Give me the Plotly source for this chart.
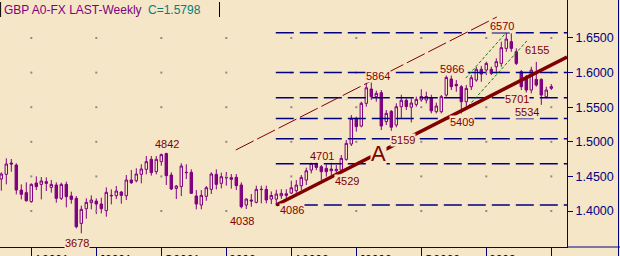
import plotly.graph_objects as go

# ---------------- data ----------------
opens = [1.4463,1.4530,1.4694,1.4665,1.4303,1.4265,1.4135,1.4405,1.4385,1.4424,
         1.4342,1.4376,1.4183,1.4385,1.4217,1.4183,1.3821,1.4033,1.4120,1.4144,
         1.4101,1.4005,1.4226,1.4221,1.4274,1.4221,1.4448,1.4438,1.4530,1.4602,
         1.4747,1.4569,1.4713,1.4830,1.4520,1.4327,1.4352,1.4560,1.4559,1.4217,
         1.4087,1.4212,1.4313,1.4530,1.4400,1.4484,1.4482,1.4487,1.4376,1.4087,
         1.4159,1.4125,1.4315,1.4313,1.4172,1.4172,1.4220,1.4225,1.4259,1.4293,
         1.4365,1.4447,1.4592,1.4688,1.4640,1.4616,1.4606,1.4582,1.4592,1.4746,
         1.4968,1.5339,1.5228,1.5556,1.5763,1.5652,1.5710,1.5291,1.5440,1.5242,
         1.5507,1.5600,1.5500,1.5540,1.5605,1.5604,1.5640,1.5435,1.5435,1.5675,
         1.5907,1.5830,1.5796,1.5579,1.5796,1.5892,1.6047,1.6037,1.6047,1.6085,
         1.6133,1.6350,1.6447,1.6302,1.6013,1.5916,1.5748,1.5902,1.5902,1.5651,
         1.5772]
highs = [1.4559,1.4761,1.4752,1.4689,1.4385,1.4414,1.4400,1.4501,1.4491,1.4487,
         1.4448,1.4414,1.4409,1.4424,1.4279,1.4217,1.4077,1.4183,1.4226,1.4183,
         1.4193,1.4342,1.4313,1.4361,1.4289,1.4520,1.4593,1.4617,1.4675,1.4795,
         1.4795,1.4795,1.4830,1.4842,1.4559,1.4376,1.4689,1.4675,1.4602,1.4303,
         1.4303,1.4361,1.4559,1.4602,1.4554,1.4564,1.4535,1.4535,1.4414,1.4183,
         1.4246,1.4366,1.4366,1.4366,1.4283,1.4307,1.4315,1.4315,1.4437,1.4447,
         1.4520,1.4626,1.4701,1.4701,1.4664,1.4674,1.4703,1.4664,1.4809,1.5026,
         1.5387,1.5363,1.5580,1.5845,1.5864,1.5739,1.5748,1.5459,1.5459,1.5556,
         1.5680,1.5628,1.5628,1.5652,1.5758,1.5725,1.5680,1.5565,1.5676,1.5966,
         1.5965,1.5892,1.5820,1.5820,1.5965,1.6085,1.6095,1.6158,1.6085,1.6206,
         1.6447,1.6570,1.6567,1.6350,1.6037,1.5965,1.6085,1.6155,1.5916,1.5796,
         1.5835]
lows = [1.4294,1.4385,1.4568,1.4241,1.4168,1.4135,1.4120,1.4303,1.4168,1.4289,
        1.4265,1.4120,1.4159,1.4053,1.4106,1.3749,1.3678,1.3889,1.4024,1.3956,
        1.3966,1.3918,1.4096,1.4173,1.4106,1.4159,1.4390,1.4414,1.4400,1.4530,
        1.4511,1.4530,1.4655,1.4376,1.4303,1.4173,1.4217,1.4462,1.4250,1.4024,
        1.4024,1.4149,1.4246,1.4313,1.4327,1.4366,1.4323,1.4303,1.4038,1.4029,
        1.4062,1.4111,1.4111,1.4111,1.4100,1.4086,1.4175,1.4180,1.4245,1.4264,
        1.4303,1.4375,1.4544,1.4590,1.4447,1.4496,1.4505,1.4529,1.4568,1.4727,
        1.4939,1.5146,1.5209,1.5508,1.5604,1.5580,1.5170,1.5242,1.5159,1.5209,
        1.5339,1.5459,1.5280,1.5507,1.5580,1.5556,1.5411,1.5411,1.5411,1.5651,
        1.5748,1.5724,1.5409,1.5483,1.5748,1.5868,1.5868,1.5965,1.5965,1.5989,
        1.6085,1.6302,1.6302,1.6109,1.5748,1.5701,1.5700,1.5796,1.5534,1.5627,
        1.5748]
closes = [1.4535,1.4679,1.4679,1.4303,1.4241,1.4149,1.4385,1.4352,1.4434,1.4400,
          1.4385,1.4183,1.4385,1.4207,1.4168,1.3773,1.4024,1.4125,1.4159,1.4101,
          1.4033,1.4270,1.4221,1.4289,1.4226,1.4448,1.4409,1.4535,1.4607,1.4713,
          1.4554,1.4747,1.4815,1.4511,1.4318,1.4361,1.4650,1.4555,1.4255,1.4101,
          1.4226,1.4337,1.4535,1.4385,1.4496,1.4480,1.4458,1.4366,1.4062,1.4173,
          1.4145,1.4313,1.4310,1.4159,1.4225,1.4245,1.4255,1.4250,1.4336,1.4375,
          1.4486,1.4582,1.4688,1.4630,1.4568,1.4568,1.4582,1.4602,1.4761,1.4978,
          1.5339,1.5219,1.5556,1.5780,1.5652,1.5700,1.5228,1.5411,1.5210,1.5507,
          1.5600,1.5510,1.5560,1.5613,1.5655,1.5655,1.5447,1.5517,1.5652,1.5930,
          1.5796,1.5810,1.5579,1.5772,1.5926,1.6047,1.5979,1.6133,1.5989,1.6158,
          1.6360,1.6485,1.6350,1.6133,1.5796,1.5748,1.6037,1.5820,1.5675,1.5748,
          1.5798]
weeks = list(range(len(closes)))

tick_weeks = [6, 19, 32, 45, 58, 71, 84, 97, 110]
tick_labels = ["A2001", "J2001", "O2001", "2002", "A2002", "J2002", "O2002", "2003", ""]
price_ticks = [1.40, 1.45, 1.50, 1.55, 1.60, 1.65]

# retracement levels (6570 high to 4086 low)
fib_levels = [1.6575, 1.6000, 1.5635, 1.5335, 1.5045, 1.4683, 1.4086]
fib_start_week = 54.9

# trend lines
trend_a_weeks = [55, 113.14]
trend_a_prices = [1.4086, 1.6225]
channel_weeks = [46.9, 99.1]
channel_prices = [1.4882, 1.6803]
green1_weeks = [92.9, 100.9]
green1_prices = [1.5922, 1.6572]
green2_weeks = [92.7, 105.1]
green2_prices = [1.5460, 1.6457]

# pivot labels
pivot_values = [1.6570, 1.6155, 1.5966, 1.5864, 1.5701, 1.5534, 1.5409, 1.5159,
                1.4701, 1.4529, 1.4086, 1.4038, 1.4842, 1.3678]
# label placement (week, price) -- layout
pivot_pos = [(100.1, 1.6673), (107.1, 1.6326), (90.1, 1.6052), (75.3, 1.5951),
             (103.1, 1.5618), (105.1, 1.5431), (92.1, 1.5286), (80.3, 1.5026),
             (64.1, 1.4795), (69.1, 1.4434), (58.1, 1.4015), (48.1, 1.3856),
             (33.1, 1.4968), (15.1, 1.3538)]
wave_label = "A"
wave_pos = (75.5, 1.4838)

title_text = "GBP A0-FX LAST-Weekly"

# ---------------- styles ----------------
BG = "#F5E6C8"
PURPLE = "#800080"
NAVY = "#000080"
DRED = "#800000"
FONT = "Liberation Sans, Arial, sans-serif"

fig = go.Figure()

# grid dots
gx, gy = [], []
for w in tick_weeks:
    for p in price_ticks:
        gx.append(w)
        gy.append(p)
fig.add_trace(go.Scatter(x=gx, y=gy, mode="markers",
                         marker=dict(symbol="square", size=2, color="#8C8C8C"),
                         hoverinfo="skip", showlegend=False))

# horizontal retracement lines
for lv in fib_levels:
    fig.add_trace(go.Scatter(x=[fib_start_week, 113.2], y=[lv, lv], mode="lines",
                             line=dict(color=NAVY, width=1.5, dash="18px,6px"),
                             hoverinfo="skip", showlegend=False))

# channel line (thin dashed)
fig.add_trace(go.Scatter(x=channel_weeks, y=channel_prices, mode="lines",
                         line=dict(color=DRED, width=1, dash="20px,4px"),
                         hoverinfo="skip", showlegend=False))
# green lines
for wx, py in [(green1_weeks, green1_prices), (green2_weeks, green2_prices)]:
    fig.add_trace(go.Scatter(x=wx, y=py, mode="lines",
                             line=dict(color="#008000", width=1, dash="3px,2px"),
                             hoverinfo="skip", showlegend=False))

# candles
fig.add_trace(go.Candlestick(
    x=weeks, open=opens, high=highs, low=lows, close=closes,
    increasing=dict(line=dict(color=PURPLE, width=1), fillcolor=BG),
    decreasing=dict(line=dict(color=PURPLE, width=1), fillcolor=PURPLE),
    whiskerwidth=0, showlegend=False, hoverinfo="skip"))

# thick trend line
fig.add_trace(go.Scatter(x=trend_a_weeks, y=trend_a_prices, mode="lines",
                         line=dict(color=DRED, width=3.5),
                         hoverinfo="skip", showlegend=False))

annotations = []
for v, (wx, py) in zip(pivot_values, pivot_pos):
    annotations.append(dict(x=wx, y=py, xref="x", yref="y", text=f"{v:.4f}"[2:],
                            showarrow=False, font=dict(family=FONT, size=11, color=DRED),
                            bgcolor=BG, borderpad=0))
annotations.append(dict(x=wave_pos[0], y=wave_pos[1], xref="x", yref="y", text=wave_label,
                        showarrow=False, font=dict(family=FONT, size=22, color=DRED),
                        bgcolor=BG, borderpad=0))
for w, lab in zip(tick_weeks, tick_labels):
    if lab:
        annotations.append(dict(x=w, y=0, xref="x", yref="paper", text=lab,
                                xanchor="left", yanchor="top", xshift=1, yshift=-4,
                                showarrow=False, font=dict(family=FONT, size=12, color=NAVY)))
annotations.append(dict(x=2 / 567, y=1, xref="paper", yref="paper", text=title_text,
                        xanchor="left", yanchor="top", yshift=-1, showarrow=False,
                        font=dict(family=FONT, size=12, color=PURPLE)))
annotations.append(dict(x=146 / 567, y=1, xref="paper", yref="paper",
                        text=f"C={closes[-1]:.4f}",
                        xanchor="left", yanchor="top", yshift=-1, showarrow=False,
                        font=dict(family=FONT, size=12, color="#008080")))

shapes = [
    dict(type="line", xref="paper", yref="paper", x0=1, x1=1.1, y0=0, y1=0,
         line=dict(color=NAVY, width=1)),
    dict(type="line", xref="paper", yref="paper", x0=618.5 / 567, x1=618.5 / 567,
         y0=-0.05, y1=1, line=dict(color=NAVY, width=1)),
    dict(type="line", xref="paper", yref="paper", x0=0.6 / 567, x1=0.6 / 567,
         y0=(247 - 2) / 247, y1=(247 - 17) / 247, line=dict(color="black", width=1)),
    dict(type="line", xref="paper", yref="paper", x0=219.5 / 567, x1=219.5 / 567,
         y0=(247 - 2) / 247, y1=(247 - 17) / 247, line=dict(color="black", width=1)),
]

fig.update_layout(
    width=620, height=256,
    margin=dict(l=0, r=53, t=0, b=9),
    paper_bgcolor=BG, plot_bgcolor=BG,
    showlegend=False,
    boxgap=0.3,
    font=dict(family=FONT, size=12, color=NAVY),
    annotations=annotations,
    shapes=shapes,
    xaxis=dict(range=[-0.26, 113.14], rangeslider=dict(visible=False),
               showgrid=False, zeroline=False, showline=True, linecolor=NAVY, linewidth=1,
               ticks="outside", ticklen=9, tickcolor=NAVY, tickwidth=1,
               tickvals=tick_weeks, showticklabels=False),
    yaxis=dict(range=[1.3480, 1.7049], side="right", showgrid=False, zeroline=False,
               showline=True, linecolor=NAVY, linewidth=1,
               ticks="outside", ticklen=5, tickcolor=NAVY, tickwidth=1,
               tickvals=price_ticks, tickformat=".4f",
               tickfont=dict(family=FONT, size=12.5, color=NAVY)),
)

fig.write_html("out.html")
